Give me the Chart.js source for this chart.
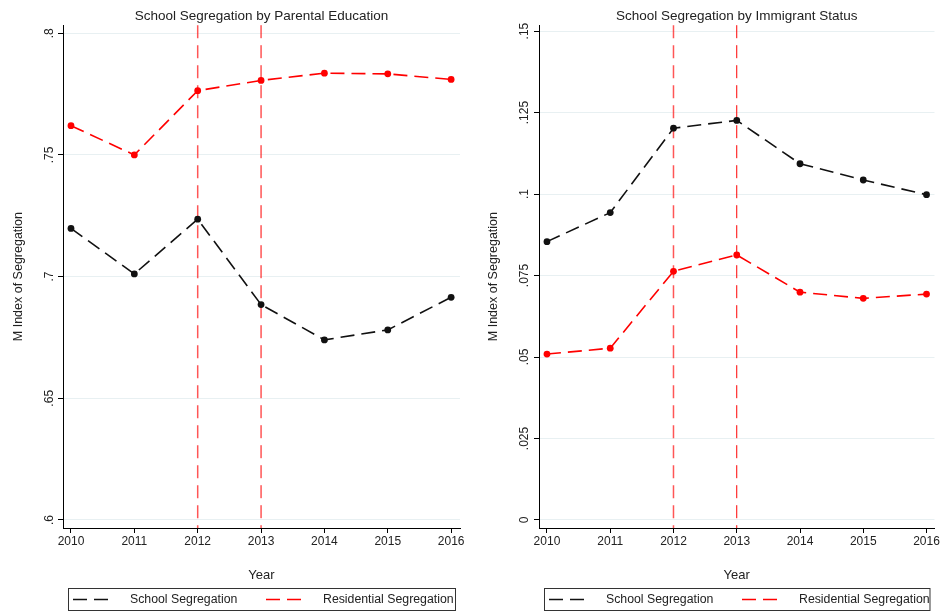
<!DOCTYPE html>
<html>
<head>
  <title>School Segregation</title>
  <script src="https://cdn.jsdelivr.net/npm/chart.js"></script>
  <style>
    body { margin: 0; background: #fff; }
    canvas { position: absolute; top: 0; }
  </style>
</head>
<body>
  <canvas id="parental" width="470" height="613" style="left:0"></canvas>
  <canvas id="immigrant" width="471" height="613" style="left:470px"></canvas>

  <script>
    var years = [2010, 2011, 2012, 2013, 2014, 2015, 2016];
    var markerYears = [2012, 2013];

    var parentalSchool = [0.7198, 0.7011, 0.7236, 0.6885, 0.6740, 0.6781, 0.6915];
    var parentalResidential = [0.7620, 0.7500, 0.7764, 0.7806, 0.7836, 0.7833, 0.7810];
    var parentalTicks = [0.6, 0.65, 0.7, 0.75, 0.8];

    var immigrantSchool = [0.0854, 0.0943, 0.1202, 0.1226, 0.1093, 0.1043, 0.0998];
    var immigrantResidential = [0.0509, 0.0527, 0.0763, 0.0813, 0.0699, 0.0680, 0.0693];
    var immigrantTicks = [0, 0.025, 0.05, 0.075, 0.1, 0.125, 0.15];

    var FONT = "'Liberation Sans', Arial, sans-serif";

    function toPoints(values) {
      return years.map(function(yr, i) { return { x: yr, y: values[i] }; });
    }

    function fmtTick(v) {
      if (v === 0) return '0';
      return String(+v.toFixed(3)).replace(/^0\./, '.');
    }

    // dashed red reference lines at the marker years
    var markerLines = {
      id: 'markerLines',
      beforeDatasetsDraw: function(chart) {
        var ctx = chart.ctx, area = chart.chartArea, xs = chart.scales.x;
        markerYears.forEach(function(yr, i) {
          var x = xs.getPixelForValue(yr);
          ctx.save();
          ctx.strokeStyle = i === 0 ? 'rgba(255,30,30,0.75)' : '#ff0000';
          ctx.lineWidth = i === 0 ? 1.5 : 1;
          ctx.setLineDash([13, 7]);
          ctx.beginPath();
          ctx.moveTo(x, area.top);
          ctx.lineTo(x, area.bottom);
          ctx.stroke();
          ctx.restore();
        });
      }
    };

    // boxed legend under the axis
    var boxLegend = {
      id: 'boxLegend',
      afterDraw: function(chart) {
        var ctx = chart.ctx, area = chart.chartArea;
        var left = area.left + 5, top = 588, w = area.right - area.left - 10, h = 22;
        ctx.save();
        ctx.strokeStyle = '#333';
        ctx.lineWidth = 1;
        ctx.strokeRect(left + 0.5, top + 0.5, w, h);
        var offs = [[5, 62], [198, 255]];
        chart.data.datasets.forEach(function(ds, i) {
          var y = top + h / 2 + 0.5;
          ctx.strokeStyle = ds.borderColor;
          ctx.lineWidth = 1.5;
          ctx.setLineDash([14, 7]);
          ctx.beginPath();
          ctx.moveTo(left + offs[i][0], y);
          ctx.lineTo(left + offs[i][0] + 36, y);
          ctx.stroke();
          ctx.setLineDash([]);
          ctx.fillStyle = '#222';
          ctx.font = '12.3px ' + FONT;
          ctx.textBaseline = 'middle';
          ctx.fillText(ds.label, left + offs[i][1], y);
        });
        ctx.restore();
      }
    };

    function makeChart(id, title, school, residential, yTicks, yMin, yMax, opts) {
      new Chart(document.getElementById(id), {
        type: 'line',
        data: {
          datasets: [{
            label: 'School Segregation',
            data: toPoints(school),
            borderColor: '#111',
            backgroundColor: '#111',
            borderWidth: 1.6,
            borderDash: [14, 7],
            pointRadius: 3.4,
            pointBorderWidth: 0,
            tension: 0
          }, {
            label: 'Residential Segregation',
            data: toPoints(residential),
            borderColor: '#ff0000',
            backgroundColor: '#ff0000',
            borderWidth: 1.6,
            borderDash: [14, 7],
            pointRadius: 3.4,
            pointBorderWidth: 0,
            tension: 0
          }]
        },
        plugins: [markerLines, boxLegend],
        options: {
          responsive: false,
          animation: false,
          layout: { padding: { left: 0, right: opts.right, top: 0, bottom: 28 } },
          plugins: {
            legend: { display: false },
            tooltip: { enabled: false },
            title: {
              display: true,
              text: title,
              fullSize: false,
              color: '#222',
              font: { family: FONT, size: 13.5, weight: 'normal' },
              padding: { top: 8, bottom: 1 }
            }
          },
          scales: {
            x: {
              type: 'linear',
              min: 2009.874,
              max: opts.xMax,
              afterBuildTicks: function(scale) {
                scale.ticks = years.map(function(v) { return { value: v }; });
              },
              afterFit: function(scale) { scale.height = 57; },
              grid: { drawOnChartArea: false, tickLength: 5, tickColor: '#000' },
              border: { color: '#000', width: 1 },
              ticks: {
                color: '#222',
                font: { family: FONT, size: 12 },
                padding: 1,
                maxRotation: 0,
                callback: function(v) { return String(v); }
              },
              title: {
                display: true,
                text: 'Year',
                color: '#222',
                font: { family: FONT, size: 13 },
                padding: { top: 0, bottom: 1.5 }
              }
            },
            y: {
              min: yMin,
              max: yMax,
              afterBuildTicks: function(scale) {
                scale.ticks = yTicks.map(function(v) { return { value: v }; });
              },
              afterFit: function(scale) { scale.width = opts.yWidth; },
              grid: { color: '#e8f0f2', tickLength: 5, tickColor: '#000' },
              border: { color: '#000', width: 1 },
              ticks: {
                color: '#222',
                font: { family: FONT, size: 12 },
                minRotation: 90,
                maxRotation: 90,
                crossAlign: 'center',
                padding: opts.tickPad,
                callback: function(v) { return fmtTick(v); }
              },
              title: {
                display: true,
                text: 'M Index of Segregation',
                color: '#222',
                font: { family: FONT, size: 12.5 },
                padding: { top: opts.titlePad, bottom: 0 }
              }
            }
          }
        }
      });
    }

    makeChart('parental', 'School Segregation by Parental Education',
      parentalSchool, parentalResidential, parentalTicks, 0.5967, 0.8033,
      { right: 10, yWidth: 63, tickPad: 0, titlePad: 11, xMax: 2016.14 });

    makeChart('immigrant', 'School Segregation by Immigrant Status',
      immigrantSchool, immigrantResidential, immigrantTicks, -0.00246, 0.1518,
      { right: 6, yWidth: 69, tickPad: -2, titlePad: 16, xMax: 2016.126 });
  </script>
</body>
</html>
